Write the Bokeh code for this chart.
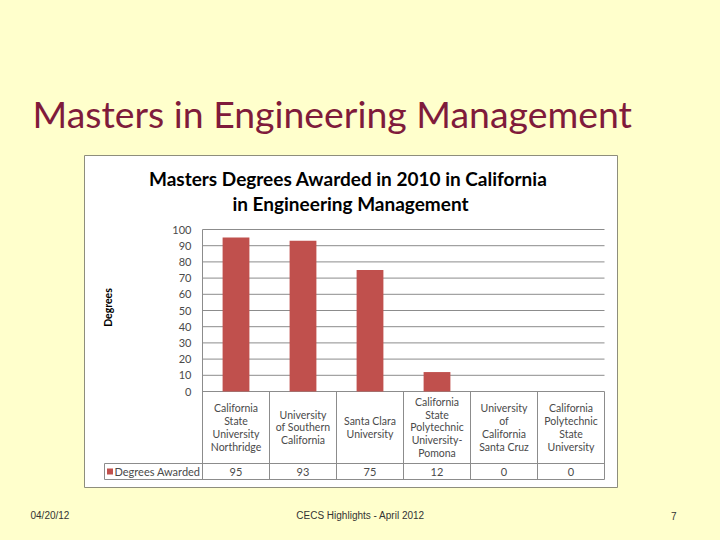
from bokeh.plotting import figure
from bokeh.models import Range1d
from bokeh.core.properties import value
from bokeh.embed import file_html
from bokeh.resources import INLINE

# ---------------- data ----------------
categories = [
    "California\nState\nUniversity\nNorthridge",
    "University\nof Southern\nCalifornia",
    "Santa Clara\nUniversity",
    "California\nState\nPolytechnic\nUniversity-\nPomona",
    "University\nof\nCalifornia\nSanta Cruz",
    "California\nPolytechnic\nState\nUniversity",
]
degrees = [95, 93, 75, 12, 0, 0]
y_ticks = [0, 10, 20, 30, 40, 50, 60, 70, 80, 90, 100]
y_tick_labels = ["0", "10", "20", "30", "40", "50", "60", "70", "80", "90", "100"]
series_name = "Degrees Awarded"
y_label = "Degrees"
chart_title_lines = ["Masters Degrees Awarded in 2010 in  California", "in Engineering Management"]
slide_title = "Masters in Engineering Management"
footer_left = "04/20/12"
footer_center = "CECS Highlights - April 2012"
footer_right = "7"

# ---------------- layout (reference pixel geometry) ----------------
W, H = 704, 524
OFF = 0
PLOT_LEFT = 202      # x of value axis
COL_W = 67           # width of one category column
PLOT_ZERO = 391      # y of value 0
PX_PER_UNIT = 1.62   # pixels per degree


def dx(px):
    return (px - PLOT_LEFT) / COL_W


def dy(py):
    return (PLOT_ZERO - py) / PX_PER_UNIT


BG = "#FFFFCC"
BAR = "#C0504D"
GRID = "#8C8C8C"
TXT = "#4A4A4A"
FONT = value("Lato")

p = figure(width=W, height=H,
           x_range=Range1d(dx(OFF), dx(OFF + W)),
           y_range=Range1d(dy(OFF + H), dy(OFF)),
           output_backend="svg", toolbar_location=None,
           x_axis_location=None, y_axis_location=None,
           min_border=0)
p.outline_line_color = None
p.background_fill_color = BG
p.border_fill_color = BG
for g in p.grid:
    g.visible = False

n = len(categories)
xs = [i + 0.5 for i in range(n)]

# chart area (white box)
p.quad(left=[dx(84)], right=[dx(617)], top=[dy(155)], bottom=[dy(487)],
       fill_color="white", line_color="#8E8E7C", line_width=1)

# gridlines
p.segment(x0=[0] * len(y_ticks), x1=[n] * len(y_ticks), y0=y_ticks, y1=y_ticks,
          line_color=GRID, line_width=1)

# value axis line + column separators extending through table
p.segment(x0=[0], x1=[0], y0=[max(y_ticks)], y1=[dy(479)], line_color=GRID)
p.segment(x0=list(range(1, n + 1)), x1=list(range(1, n + 1)),
          y0=[0] * n, y1=[dy(479)] * n, line_color=GRID)
# table horizontal lines
p.segment(x0=[dx(104), dx(104)], x1=[n, n], y0=[dy(463), dy(479)], y1=[dy(463), dy(479)],
          line_color=GRID)
p.segment(x0=[dx(104)], x1=[dx(104)], y0=[dy(463)], y1=[dy(479)], line_color=GRID)

# bars
p.vbar(x=xs, top=degrees, bottom=0, width=0.4, fill_color=BAR, line_color=None)

# tick labels
p.text(x=[dx(191)] * len(y_ticks), y=y_ticks, text=y_tick_labels,
       text_font=FONT, text_font_size="11px", text_color=TXT,
       text_align="right", text_baseline="middle")

# category labels
p.text(x=xs, y=[dy(427)] * n, text=categories,
       text_font=FONT, text_font_size="10.5px", text_color=TXT,
       text_align="center", text_baseline="middle", text_line_height=1.07)

# data table values
p.text(x=xs, y=[dy(471)] * n, text=[str(v) for v in degrees],
       text_font=FONT, text_font_size="11px", text_color=TXT,
       text_align="center", text_baseline="middle")

# legend key
p.scatter(x=[dx(109.5)], y=[dy(471)], marker="square", size=6,
          fill_color=BAR, line_color=None)
p.text(x=[dx(114)], y=[dy(471)], text=[series_name],
       text_font=FONT, text_font_size="11px", text_color=TXT,
       text_align="left", text_baseline="middle")

# axis title
p.text(x=[dx(107)], y=[dy(307)], text=[y_label], angle=1.5707963,
       text_font=FONT, text_font_size="10.5px", text_font_style="bold",
       text_color="#000000", text_align="center", text_baseline="middle")

# chart title
p.text(x=[dx(350), dx(350)], y=[dy(178), dy(203)], text=chart_title_lines,
       text_font=FONT, text_font_size="19px", text_font_style="bold",
       text_color="#000000", text_align="center", text_baseline="middle")

# slide title
p.text(x=[dx(32)], y=[dy(113)], text=[slide_title],
       text_font=FONT, text_font_size="37.4px", text_color="#7F1B3B",
       text_align="left", text_baseline="middle")

# footer
FFONT = value("Liberation Sans")
p.text(x=[dx(30)], y=[dy(515)], text=[footer_left], text_font=FFONT,
       text_font_size="10px", text_color="#333333", text_align="left", text_baseline="middle")
p.text(x=[dx(360)], y=[dy(515)], text=[footer_center], text_font=FFONT,
       text_font_size="10px", text_color="#333333", text_align="center", text_baseline="middle")
p.text(x=[dx(676)], y=[dy(515)], text=[footer_right], text_font=FFONT,
       text_font_size="10px", text_color="#333333", text_align="right", text_baseline="middle")

html = file_html(p, INLINE).replace("<head>", "<head><style>html,body{background:#FFFFCC;}</style>", 1)
open("out.html", "w").write(html)
